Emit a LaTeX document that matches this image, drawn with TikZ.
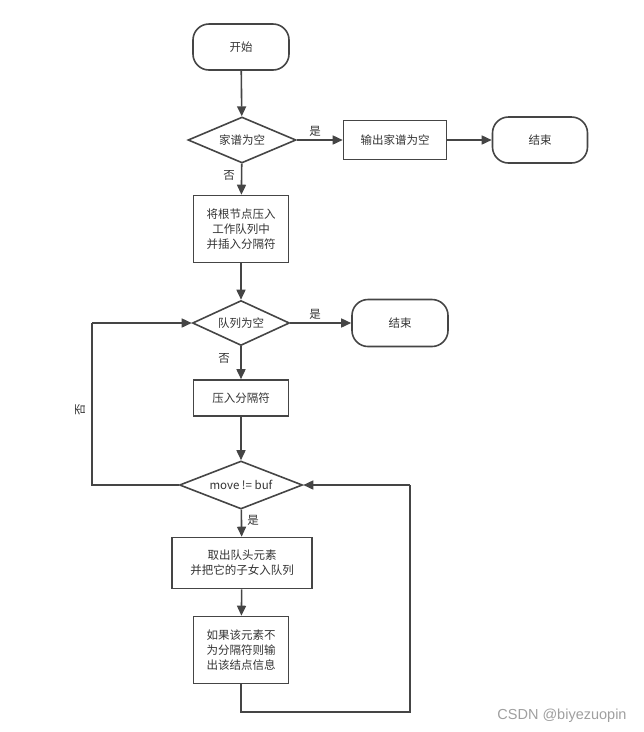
\documentclass[tikz,border=0pt]{standalone}
\usepackage{fontspec}
\setmainfont{Noto Sans CJK SC}
\newfontfamily\wmfont{Liberation Sans}
\usetikzlibrary{shapes.geometric,arrows.meta}
\definecolor{ln}{HTML}{454545}
\definecolor{tx}{HTML}{333333}
\tikzset{
  base/.style={draw=ln,line width=1.6pt,text=tx,font=\fontsize{11.5}{15}\selectfont,align=center,inner sep=0pt},
  term/.style={base,rounded corners=16pt,minimum width=96pt,minimum height=46pt},
  proc/.style={base,rectangle},
  dec/.style={base,diamond,aspect=2.3},
  conn/.style={draw=ln,line width=1.6pt,-{Triangle[length=10pt,width=9pt]}},
  line/.style={draw=ln,line width=1.6pt},
  lab/.style={text=tx,font=\fontsize{11.5}{12}\selectfont,inner sep=0pt}
}
\begin{document}
\begin{tikzpicture}[x=1pt,y=-1pt]
\useasboundingbox (0,0) rectangle (644,732);
\node[term] (start) at (241,47) {开始};
\node[dec,minimum width=108pt,minimum height=46pt] (d1) at (242,140) {家谱为空};
\node[proc,minimum width=103pt,minimum height=39pt] (out) at (395,140) {输出家谱为空};
\node[term,minimum width=95pt] (end1) at (540,140) {结束};
\node[proc,minimum width=95pt,minimum height=67pt] (init) at (241,229) {将根节点压入\\工作队列中\\并插入分隔符};
\node[dec,minimum width=97pt,minimum height=45pt] (d2) at (241,323) {队列为空};
\node[term,minimum width=96pt,minimum height=47pt] (end2) at (400,323) {结束};
\node[proc,minimum width=95pt,minimum height=36pt] (push) at (241,398) {压入分隔符};
\node[dec,minimum width=123pt,minimum height=48pt] (d3) at (241,485) {move != buf};
\node[proc,minimum width=140pt,minimum height=51pt] (take) at (242,563) {取出队头元素\\并把它的子女入队列};
\node[proc,minimum width=95pt,minimum height=67pt] (print) at (241,650) {如果该元素不\\为分隔符则输\\出该结点信息};
\coordinate (lt) at (92,485);
\coordinate (lb) at (92,323);
\coordinate (rb) at (241,712);
\coordinate (rc) at (410,712);
\coordinate (rt) at (410,485);

\draw[conn] (start) -- (d1);
\draw[conn] (d1) -- (out);
\draw[conn] (out) -- (end1);
\draw[conn] (d1) -- (init);
\draw[conn] (init) -- (d2);
\draw[conn] (d2) -- (end2);
\draw[conn] (d2) -- (push);
\draw[conn] (push) -- (d3);
\draw[conn] (d3) -- (take);
\draw[conn] (take) -- (print);
\draw[line] (d3.west) -- (lt) -- (lb);
\draw[conn] (lb) -- (d2.west);
\draw[line] (print.south) -- (rb) -- (rc) -- (rt);
\draw[conn] (rt) -- (d3.east);

\node[lab] (l1) at (315,131) {是};
\node[lab] (l2) at (229,175) {否};
\node[lab] (l3) at (315,314) {是};
\node[lab] (l4) at (224,358) {否};
\node[lab,rotate=90] (l5) at (80,410) {否};
\node[lab] (l6) at (253,520) {是};
\node[text=gray!75,font=\fontsize{14.5}{16}\wmfont,inner sep=0pt] (wm) at (562,716) {CSDN @biyezuopin};
\end{tikzpicture}
\end{document}
